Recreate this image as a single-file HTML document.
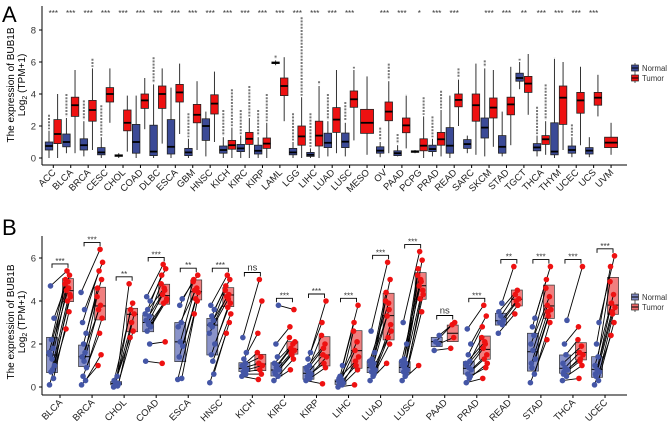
<!DOCTYPE html>
<html><head><meta charset="utf-8">
<style>
html,body{margin:0;padding:0;background:#fff;}
svg{display:block;font-family:"Liberation Sans",Arial,sans-serif;}
</style></head>
<body>
<svg id="chart" width="668" height="424" viewBox="0 0 668 424">
</svg>
<script>
// ===== Panel A data =====
const aCategories = ["ACC","BLCA","BRCA","CESC","CHOL","COAD","DLBC","ESCA","GBM","HNSC","KICH","KIRC","KIRP","LAML","LGG","LIHC","LUAD","LUSC","MESO","OV","PAAD","PCPG","PRAD","READ","SARC","SKCM","STAD","TGCT","THCA","THYM","UCEC","UCS","UVM"];
// [q1, median, q3, whiskerLow, whiskerHigh]; null = group absent
const aNormalBox = [
[.5,.75,1.0,0,1.7],[.7,1.0,1.5,.3,2.5],[.5,.8,1.2,.1,2.3],[.2,.35,.65,0,1.3],[.1,.15,.2,0,.3],
[.3,1.0,2.1,0,3.9],[.15,.4,2.05,0,4.6],[.25,.7,2.4,0,4.4],[.15,.35,.6,0,1.2],[1.1,2.0,2.45,.1,2.9],
[.3,.5,.75,0,1.3],[.4,.6,.85,0,1.4],[.25,.45,.8,0,1.3],[5.9,5.95,6.0,5.8,6.1],[.2,.35,.6,0,1.0],
[.1,.2,.35,0,.6],[.65,.95,1.55,.1,2.3],[.65,1.02,1.56,.1,2.2],null,[.3,.46,.7,.05,1.0],
[.15,.3,.45,.1,.8],[.35,.4,.45,.3,.5],[.4,.56,.8,.1,1.2],[.3,.77,1.9,0,3.9],[.6,.87,1.15,.3,1.4],
[1.25,1.9,2.5,.1,5.6],[.3,.7,1.4,.1,2.9],[4.8,5.0,5.3,4.3,6.0],[.45,.66,.9,.1,1.4],[.2,.4,2.2,0,6.2],
[.3,.5,.75,.05,1.3],[.25,.46,.65,.05,1.3],null];
const aTumorBox = [
[.9,1.5,2.4,0,4.0],[2.6,3.3,3.8,.3,5.5],[2.3,3.0,3.6,.5,5.6],[3.5,4.0,4.4,2.2,5.6],[1.7,2.2,3.0,.4,3.9],
[3.1,3.6,4.0,1.8,5.0],[3.1,4.0,4.5,.9,5.6],[3.5,4.1,4.6,1.5,5.9],[2.2,2.7,3.35,.5,4.8],[2.75,3.4,3.95,1.0,5.4],
[.55,.8,1.1,0,1.9],[.85,1.2,1.6,0,2.5],[.6,.9,1.25,0,2.2],[3.9,4.5,5.0,2.3,6.3],[.8,1.35,2.0,0,3.8],
[.75,1.4,2.3,0,4.5],[1.6,2.4,3.15,.3,5.5],[3.17,3.67,4.19,1.1,5.5],[1.54,2.2,3.04,.2,5.1],[2.33,2.9,3.5,.3,4.8],
[1.58,2.04,2.5,.6,3.9],[.45,.77,1.2,0,2.6],[.8,1.17,1.6,.1,3.0],[3.2,3.63,4.0,2.0,4.9],[2.3,3.3,4.0,.2,5.9],
[2.5,3.15,3.75,.7,5.5],[2.7,3.35,3.8,.8,5.7],[4.1,4.65,5.1,2.7,6.5],[.85,1.17,1.4,.2,2.3],[2.1,3.77,4.5,.5,6.0],
[2.8,3.6,4.1,.8,5.7],[3.3,3.77,4.1,2.6,5.2],[.65,.96,1.3,.2,2.2]];
// outlier column tops (null = none)
const aNormalOutTop = [2.7,4.0,3.6,3.3,null,null,6.3,null,2.8,null,3.0,3.0,3.0,6.4,2.8,2.8,4.0,3.5,null,1.9,1.5,null,2.6,null,null,6.1,null,6.2,3.2,6.3,2.1,null,null];
const aTumorOutTop = [null,null,6.2,null,null,null,null,null,null,null,4.3,4.5,4.0,null,8.8,4.8,null,5.7,null,5.9,4.0,3.8,4.2,5.6,null,null,null,null,4.6,null,null,null,null];
const aSignif = ["***","***","***","***","***","***","***","***","***","***","***","***","***","***","***","***","***","***","","***","***","*","***","***","","***","***","**","***","***","***","***",""];
const aYTicks = [0,2,4,6,8];

// ===== Panel B data =====
const bCategories = ["BLCA","BRCA","CHOL","COAD","ESCA","HNSC","KICH","KIRC","KIRP","LIHC","LUAD","LUSC","PAAD","PRAD","READ","STAD","THCA","UCEC"];
const bNormalBox = [[.67,1.49,2.31],[.95,1.41,1.95],[.1,.17,.25],[2.57,3.0,3.35],[1.18,2.1,3.0],[1.49,2.88,3.19],[.72,.87,1.13],[.51,.79,1.13],[.36,.64,.95],[.12,.25,.33],[.67,.9,1.18],[.67,.91,1.18],[1.88,2.11,2.31],[.6,.87,1.18],[2.88,3.08,3.43],[.74,1.64,2.5],[.64,.87,1.49],[.45,.82,1.41]];
const bTumorBox = [[3.97,4.48,5.04],[3.12,3.77,4.64],[2.57,3.38,3.66],[3.85,4.25,4.78],[4.05,4.43,4.98],[3.74,4.28,4.62],[.76,1.07,1.52],[1.53,1.75,2.11],[.98,1.49,2.34],[.87,1.69,2.62],[2.19,3.32,4.36],[4.08,4.71,5.32],[2.11,2.5,2.88],[1.29,1.75,2.37],[3.77,4.08,4.51],[3.19,3.77,4.74],[1.26,1.6,2.06],[3.38,3.81,5.1]];
const bNormalPts = [
[0.1,0.4,0.7,1.0,1.3,1.5,1.8,2.2,3.2,4.7,0.8,1.6],
[0.1,0.3,0.5,0.9,1.2,1.4,1.6,2.0,2.5,3.0,3.6,4.4],
[0.0,0.05,0.1,0.15,0.2,0.3,0.5],
[1.2,2.0,2.6,2.8,3.0,3.1,3.3,3.6,4.0,4.2,2.9,3.4],
[0.35,0.4,1.4,1.9,2.1,2.8,3.0,3.8,4.1],
[0.2,0.6,1.5,2.0,2.8,2.9,3.1,3.3,3.6,3.8,1.2,2.5],
[0.5,0.6,0.7,0.8,0.9,1.0,1.1,1.3,1.6,2.3],
[0.3,0.5,0.6,0.8,0.9,1.1,1.4,2.0,3.8,0.7,1.0],
[0.3,0.4,0.5,0.6,0.7,0.9,1.0,1.3,1.6,0.8],
[0.0,0.1,0.15,0.2,0.25,0.3,0.35,0.5,1.0,0.4],
[0.3,0.6,0.7,0.8,0.9,1.0,1.1,1.3,1.6,2.6,0.5,1.2],
[0.3,0.6,0.7,0.8,0.9,1.0,1.1,1.3,2.0,3.0,0.5,1.2],
[1.7,2.0,2.1,2.4],
[0.2,0.5,0.6,0.8,0.9,1.0,1.2,1.5,2.0,2.7,0.4,1.1],
[2.5,2.9,3.0,3.1,3.3,3.5,3.9],
[0.2,0.6,0.9,1.3,1.7,2.0,2.4,2.8,3.2,1.1],
[0.3,0.5,0.7,0.8,0.9,1.1,1.5,2.0,3.1,0.6],
[0.1,0.3,0.5,0.7,0.8,1.0,1.4,2.0,3.0,0.6]];
const bTumorPts = [
[2.7,3.5,4.0,4.3,4.5,4.6,4.8,5.0,5.2,5.4,4.2,4.9],
[1.0,1.5,2.5,3.2,3.6,3.8,4.2,4.6,5.0,5.4,5.8,6.4],
[2.3,2.6,3.0,3.4,3.6,3.9,4.8],
[1.1,2.1,3.9,4.0,4.3,4.5,4.8,5.2,5.5,5.7,4.1,4.6],
[3.4,4.0,4.1,4.4,4.5,4.6,4.9,5.0,5.2],
[2.5,3.0,3.7,3.9,4.2,4.3,4.5,4.7,5.0,5.2,3.4,4.1],
[0.35,0.6,0.8,1.0,1.1,1.4,1.6,2.5,4.0,5.0],
[0.8,1.3,1.5,1.7,1.8,2.0,2.3,2.8,3.6,1.6,2.1],
[0.15,0.9,1.1,1.4,1.5,2.0,2.4,3.0,4.0,1.8],
[0.1,0.8,1.0,1.4,1.7,2.1,2.6,3.0,3.8,1.2],
[1.1,2.0,2.3,2.9,3.3,3.6,4.0,4.4,5.0,5.8,2.6,3.9],
[1.0,3.5,4.1,4.5,4.7,4.9,5.2,5.5,5.9,6.3,4.3,5.0],
[1.8,2.3,2.9,3.0],
[0.4,0.9,1.3,1.5,1.8,2.0,2.3,2.8,3.3,3.8,1.1,2.1],
[3.4,3.8,4.0,4.1,4.3,4.5,5.6],
[2.2,3.0,3.3,3.6,3.8,4.2,4.6,5.0,5.6,3.5],
[0.4,1.0,1.3,1.5,1.6,1.9,2.2,2.8,5.6,1.2],
[2.4,3.0,3.4,3.7,3.9,4.3,4.9,5.6,6.1,3.5]];
const bSignif = ["***","***","**","***","**","***","ns","***","***","***","***","***","ns","***","**","***","***","***"];
const bYTicks = [0,2,4,6];

const NS = "http://www.w3.org/2000/svg";
const svg = document.getElementById("chart");
function mk(tag, attrs, parent, text){
  const e = document.createElementNS(NS, tag);
  for (const k in attrs) e.setAttribute(k, attrs[k]);
  if (text !== undefined) e.textContent = text;
  (parent || svg).appendChild(e);
  return e;
}
const NBLUE = "#3b4a96", TRED = "#ee1111";

// ===== Panel A axes =====
const aY = v => 158 - 16 * v;
const aX = i => 53.3 + i * 17.43;
const gA = mk("g", {});


let t = mk("text", {x: 2, y: 22, "font-size": 22}, gA, "A");


let yl = mk("text", {transform: "translate(14,85) rotate(-90)", "text-anchor": "middle", "font-size": 10}, gA, "The expression of BUB1B");


let yl2 = mk("text", {transform: "translate(25,85) rotate(-90)", "text-anchor": "middle", "font-size": 10}, gA);
yl2.innerHTML = 'Log<tspan font-size="7" dy="2">2</tspan><tspan dy="-2"> (TPM+1)</tspan>';


let ax = mk("line", {x1: 42, y1: 6, x2: 42, y2: 165, stroke: "#000", "stroke-width": 1}, gA);


ax = mk("line", {x1: 42, y1: 165, x2: 627, y2: 165, stroke: "#000", "stroke-width": 1}, gA);


aYTicks.forEach(v => {
  mk("line", {x1: 39, x2: 42, y1: aY(v), y2: aY(v), stroke: "#000"}, gA);
  const tl = mk("text", {x: 36, y: aY(v) + 3.5, "text-anchor": "end", "font-size": 9.5, fill: "#333"}, gA, String(v));
  
  
});
function drawBox(g, cx, w, b, fill, yfn, name, outTop){
  const grp = mk("g", {}, g);
  
  
  if (outTop != null && outTop > b[4]) {
    const o = mk("line", {x1: cx, x2: cx, y1: yfn(outTop), y2: yfn(b[4]) - 1.5, stroke: "#777", "stroke-width": 2, "stroke-dasharray": "2,1.2"}, grp);
    
    
  }
  mk("line", {x1: cx, x2: cx, y1: yfn(b[4]), y2: yfn(b[0]), stroke: "#333", "stroke-width": 1}, grp);
  mk("line", {x1: cx, x2: cx, y1: yfn(b[2]), y2: yfn(b[3]), stroke: "#333", "stroke-width": 1}, grp);
  mk("rect", {x: cx - w/2, y: yfn(b[2]), width: w, height: Math.max(1.5, yfn(b[0]) - yfn(b[2])), fill: fill, stroke: "#222", "stroke-width": 0.8}, grp);
  mk("line", {x1: cx - w/2, x2: cx + w/2, y1: yfn(b[1]), y2: yfn(b[1]), stroke: "#000", "stroke-width": 1.8}, grp);
}
aCategories.forEach((c, i) => {
  const cx = aX(i);
  const n = aNormalBox[i], tb = aTumorBox[i];
  if (n) {
    drawBox(gA, cx - 4.3, 7.5, n, NBLUE, aY, "box-normal-" + c.toLowerCase(), aNormalOutTop[i]);
    drawBox(gA, cx + 4.3, 7.5, tb, TRED, aY, "box-tumor-" + c.toLowerCase(), aTumorOutTop[i]);
  } else {
    drawBox(gA, cx, 13, tb, TRED, aY, "box-tumor-" + c.toLowerCase(), aTumorOutTop[i]);
  }
  mk("line", {x1: cx, x2: cx, y1: 165, y2: 168, stroke: "#000"}, gA);
  const lab = mk("text", {transform: `translate(${cx + 3},${173}) rotate(-45)`, "text-anchor": "end", "font-size": 9.5, fill: "#222"}, gA, c);
  
  
  if (aSignif[i]) {
    const s = mk("text", {x: cx, y: 16, "text-anchor": "middle", "font-size": 8, fill: "#333"}, gA, aSignif[i]);
    
    
  }
});
function legend(g, y0, light, name){
  const lg = mk("g", {}, g);
  
  
  [["Normal", light ? "#7f89c2" : NBLUE], ["Tumor", light ? "#f06a6a" : TRED]].forEach((e, k) => {
    const y = y0 + k * 10;
    mk("line", {x1: 635, x2: 635, y1: y - 5, y2: y + 5, stroke: "#333", "stroke-width": 0.8}, lg);
    mk("rect", {x: 631.5, y: y - 3, width: 7, height: 6, fill: e[1], stroke: "#222", "stroke-width": 0.7}, lg);
    mk("line", {x1: 631.5, x2: 638.5, y1: y, y2: y, stroke: "#000", "stroke-width": 1}, lg);
    const tx = mk("text", {x: 642, y: y + 3, "font-size": 8, fill: "#333", textLength: e[0] === "Normal" ? 25 : 22, lengthAdjust: "spacingAndGlyphs"}, lg, e[0]);
    
    
  });
}
legend(gA, 68, false, "panel-a-legend");

// ===== Panel B =====
const bY = v => 387 - 21.5 * v;
const bX = i => 60 + i * 32.06;
const gB = mk("g", {});


t = mk("text", {x: 2, y: 235, "font-size": 22}, gB, "B");


yl = mk("text", {transform: "translate(14,322) rotate(-90)", "text-anchor": "middle", "font-size": 10}, gB, "The expression of BUB1B");


yl2 = mk("text", {transform: "translate(25,322) rotate(-90)", "text-anchor": "middle", "font-size": 10}, gB);
yl2.innerHTML = 'Log<tspan font-size="7" dy="2">2</tspan><tspan dy="-2"> (TPM+1)</tspan>';


ax = mk("line", {x1: 42, y1: 236, x2: 42, y2: 395, stroke: "#000"}, gB);


ax = mk("line", {x1: 42, y1: 395, x2: 627, y2: 395, stroke: "#000"}, gB);


bYTicks.forEach(v => {
  mk("line", {x1: 39, x2: 42, y1: bY(v), y2: bY(v), stroke: "#000"}, gB);
  const tl = mk("text", {x: 36, y: bY(v) + 3.5, "text-anchor": "end", "font-size": 9.5, fill: "#333"}, gB, String(v));
  
  
});
const jit = [-2.5, 1.5, -1, 2.5, 0, -2, 1, -0.5, 2, -1.5, 0.5, -3];
bCategories.forEach((c, i) => {
  const cx = bX(i), nx = cx - 8, tx = cx + 8;
  const cg = mk("g", {}, gB);
  
  
  const nb = bNormalBox[i], tb = bTumorBox[i];
  const r1 = mk("rect", {x: nx - 5.5, y: bY(nb[2]), width: 11, height: Math.max(2, bY(nb[0]) - bY(nb[2])), fill: "#8a93c9", stroke: "#333", "stroke-width": 0.7}, cg);
  
  
  const r2 = mk("rect", {x: tx - 5.5, y: bY(tb[2]), width: 11, height: Math.max(2, bY(tb[0]) - bY(tb[2])), fill: "#f07f7f", stroke: "#333", "stroke-width": 0.7}, cg);
  
  
  mk("line", {x1: nx - 5.5, x2: nx + 5.5, y1: bY(nb[1]), y2: bY(nb[1]), stroke: "#000", "stroke-width": 1}, cg);
  mk("line", {x1: tx - 5.5, x2: tx + 5.5, y1: bY(tb[1]), y2: bY(tb[1]), stroke: "#000", "stroke-width": 1}, cg);
  const np = bNormalPts[i], tp = bTumorPts[i];
  np.forEach((v, k) => {
    const pl = mk("line", {x1: nx + jit[k % 12], y1: bY(v), x2: tx + jit[(k + 5) % 12], y2: bY(tp[k]), stroke: "#000", "stroke-width": 0.9}, cg);
    
    
  });
  np.forEach((v, k) => {
    const p = mk("circle", {cx: nx + jit[k % 12], cy: bY(v), r: 2.8, fill: "#4456a6"}, cg);
    
    
  });
  tp.forEach((v, k) => {
    const p = mk("circle", {cx: tx + jit[(k + 5) % 12], cy: bY(v), r: 2.8, fill: "#ee1111"}, cg);
    
    
  });
  const top = Math.max(...np, ...tp);
  const by = bY(top) - 7;
  const br = mk("path", {d: `M${nx},${by + 4}V${by}H${tx}V${by + 4}`, fill: "none", stroke: "#000", "stroke-width": 0.9}, cg);
  
  
  const st = mk("text", {x: cx, y: bSignif[i] === "ns" ? by - 2 : by, "text-anchor": "middle", "font-size": bSignif[i] === "ns" ? 9.5 : 8, fill: "#333"}, cg, bSignif[i]);
  
  
  mk("line", {x1: cx, x2: cx, y1: 395, y2: 398, stroke: "#000"}, gB);
  const lab = mk("text", {transform: `translate(${cx + 3},${403}) rotate(-45)`, "text-anchor": "end", "font-size": 9.5, fill: "#222"}, gB, c);
  
  
});
legend(gB, 297, true, "panel-b-legend");
</script>
</body></html>
